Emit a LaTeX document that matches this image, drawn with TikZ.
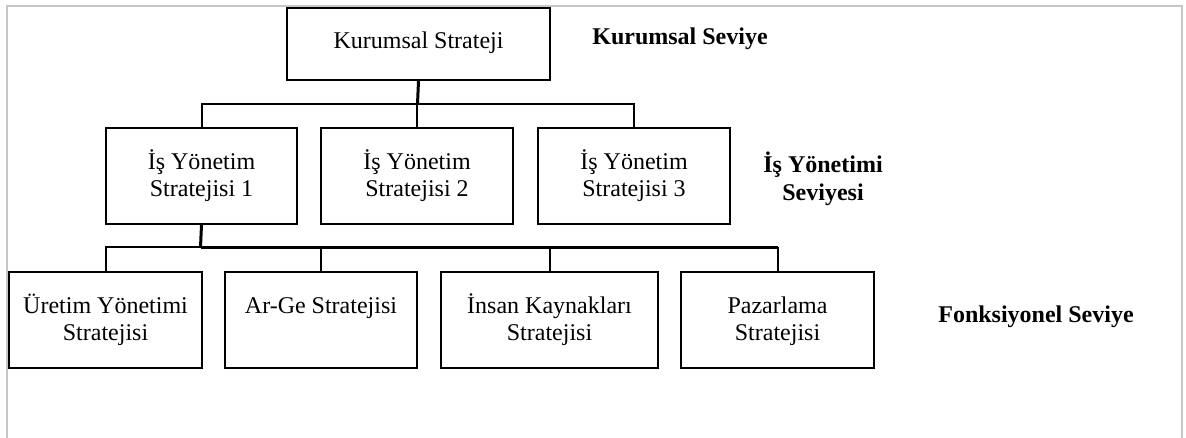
\documentclass[tikz,border=0pt]{standalone}
\usepackage{fontspec}
\setmainfont{Liberation Serif}
\begin{document}
\begin{tikzpicture}[x=0.5pt,y=-0.5pt,
  wh/.style 2 args={minimum width=#1*0.5pt, minimum height=#2*0.5pt},
  box/.style={draw=black, line width=1pt, rectangle, inner sep=0pt, anchor=north west},
  txt/.style={anchor=base, align=center, inner sep=0pt,
    font=\fontsize{12pt}{13.8pt}\selectfont},
  lbl/.style={anchor=base, align=center, inner sep=0pt,
    font=\fontsize{12pt}{13.8pt}\selectfont\bfseries},
  % baseline of the last line, for one- and two-line box texts
  one/.style={yshift=-21pt},
  two/.style={yshift=-34.8pt},
  conn/.style={draw=black, line width=1pt},
  stem/.style={draw=black, line width=1.5pt},
  frame/.style={draw=black!22, line width=0.8pt}]

\useasboundingbox (0,0) rectangle (1186,438);
\draw[frame] (7,438) -- (7,6) -- (1182,6) -- (1182,438);

% corporate level
\node[box, wh={263}{72}] (ks) at (286,7) {};
\node[txt] (ks-t) at ([one]ks.north) {Kurumsal Strateji};

% business level
\node[box, wh={191}{96}] (i1) at (105,127) {};
\node[box, wh={192}{96}] (i2) at (320,127) {};
\node[box, wh={192}{96}] (i3) at (537,127) {};
\node[txt] (i1-t) at ([two]i1.north) {İş Yönetim\\Stratejisi 1};
\node[txt] (i2-t) at ([two]i2.north) {İş Yönetim\\Stratejisi 2};
\node[txt] (i3-t) at ([two]i3.north) {İş Yönetim\\Stratejisi 3};

% functional level
\node[box, wh={193}{96}] (f1) at (8,271) {};
\node[box, wh={192}{96}] (f2) at (224,271) {};
\node[box, wh={217}{96}] (f3) at (440,271) {};
\node[box, wh={193}{96}] (f4) at (680,271) {};
\node[txt] (f1-t) at ([two]f1.north) {Üretim Yönetimi\\Stratejisi};
\node[txt] (f2-t) at ([one]f2.north) {Ar-Ge Stratejisi};
\node[txt] (f3-t) at ([two]f3.north) {İnsan Kaynakları\\Stratejisi};
\node[txt] (f4-t) at ([two]f4.north) {Pazarlama\\Stratejisi};

% level labels
\node[lbl] (lv1) at (680,45) {Kurumsal Seviye};
\node[lbl] (lv2) at (823,200) {İş Yönetimi\\Seviyesi};
\node[lbl] (lv3) at (1036,322) {Fonksiyonel Seviye};

% connectors: corporate -> business
\coordinate (j1) at (417.5,104);
\draw[stem] (ks.south) -- (j1);
\draw[conn] (i1.north) |- (j1) -| (i3.north);
\draw[conn] (j1 -| i2.north) -- (i2.north);

% connectors: business 1 -> functional
\coordinate (j2) at (200.5,247);
\draw[stem] (i1.south) -- (j2);
\draw[conn] (j2) -| (f1.north);
\draw[stem] (j2) -- (j2 -| f4.north);
\draw[conn] (j2 -| f2.north) -- (f2.north);
\draw[conn] (j2 -| f3.north) -- (f3.north);
\draw[conn] (j2 -| f4.north) -- (f4.north);
\end{tikzpicture}
\end{document}
